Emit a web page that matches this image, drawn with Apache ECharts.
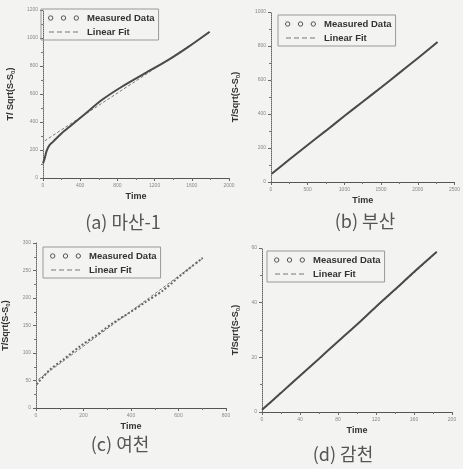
<!DOCTYPE html>
<html>
<head>
<meta charset="utf-8">
<style>
    html, body { margin: 0; padding: 0; background: #f3f3f1; }
    #main { width: 463px; height: 469px; }
</style>
<script src="https://cdn.jsdelivr.net/npm/echarts@6/dist/echarts.min.js"></script>
</head>
<body>
<div id="main"></div>
<script>
// (a) 마산-1
let timeA = [0, 18, 40, 70, 110, 198, 305, 448, 628, 843, 1094, 1344, 1559, 1792];
let measA = [105, 140, 195, 235, 260, 318, 377, 455, 555, 650, 747, 842, 935, 1045];
let fitTimeA = [18, 1792];
let fitA = [265, 1040];
// (b) 부산
let timeB = [10, 250, 500, 750, 1000, 1250, 1500, 1750, 2000, 2270];
let measB = [48, 132, 218, 302, 388, 472, 556, 642, 728, 823];
let fitTimeB = [10, 2270];
let fitB = [52, 820];
// (c) 여천
let timeC = [3, 59, 115, 185, 256, 326, 396, 466, 536, 606, 702];
let measC = [43, 70, 88, 112, 133, 155, 174, 194, 214, 240, 273];
let fitTimeC = [10, 702];
let fitC = [52, 272];
// (d) 감천
let timeD = [0, 20, 40, 60, 80, 100, 120, 140, 160, 184];
let measD = [0.8, 7, 13.3, 19.5, 25.8, 32, 38.5, 44.8, 51.2, 58.6];
let fitTimeD = [0, 184];
let fitD = [0.5, 58.4];

let xMax = [2000, 2500, 800, 200];
let xStep = [400, 500, 200, 40];
let yMax = [1200, 1000, 300, 60];
let yStep = [200, 200, 50, 20];
let captions = ["(a) 마산-1", "(b) 부산", "(c) 여천", "(d) 감천"];
let yNames = ["T/ Sqrt(S-S{s|0})", "T/Sqrt(S-S{s|0})", "T/Sqrt(S-S{s|0})", "T/Sqrt(S-S{s|0})"];

let panels = [
    {t: timeA, m: measA, ft: fitTimeA, f: fitA, grid: {left: 43, top: 10, width: 186, height: 168}, nameGap: 27, legend: [41, 9], cap: [123, 222]},
    {t: timeB, m: measB, ft: fitTimeB, f: fitB, grid: {left: 271, top: 12, width: 185, height: 170}, nameGap: 30, legend: [278, 15], cap: [365, 221]},
    {t: timeC, m: measC, ft: fitTimeC, f: fitC, grid: {left: 36, top: 243, width: 190, height: 165}, nameGap: 25, legend: [43, 247], cap: [120, 444]},
    {t: timeD, m: measD, ft: fitTimeD, f: fitD, grid: {left: 262, top: 248, width: 190, height: 164}, nameGap: 21, legend: [267, 251], cap: [343, 454]}
];

function pairs(xs, ys) {
    let out = [];
    for (let i = 0; i < xs.length; i++) out.push([xs[i], ys[i]]);
    return out;
}
function plain(v) { return String(v); }

// three small open circles; the two empty boxes keep the icon from stretching
let circlesIcon = 'path://M0,0h0.1v0h-0.1zM0,7h0.1v0h-0.1z' +
    'M0,3.5A2.2,2.2,0,1,1,4.4,3.5A2.2,2.2,0,1,1,0,3.5Z' +
    'M12.8,3.5A2.2,2.2,0,1,1,17.2,3.5A2.2,2.2,0,1,1,12.8,3.5Z' +
    'M25.6,3.5A2.2,2.2,0,1,1,30,3.5A2.2,2.2,0,1,1,25.6,3.5Z';
let dashIcon = 'path://M0,3h5v1h-5zM8,3h5v1h-5zM16,3h5v1h-5zM24,3h5v1h-5zM0,0h1v0h-1zM0,7h1v0h-1z';

let option = {
    backgroundColor: '#f3f3f1',
    animation: false,
    grid: [], xAxis: [], yAxis: [], series: [], legend: [], graphic: []
};

panels.forEach(function (p, i) {
    option.grid.push(p.grid);
    option.xAxis.push({
        type: 'value', gridIndex: i, min: 0, max: xMax[i], interval: xStep[i],
        name: 'Time', nameLocation: 'middle', nameGap: 14,
        nameTextStyle: {fontFamily: 'Liberation Sans', fontWeight: 'bold', fontSize: 9, color: '#333'},
        axisLine: {lineStyle: {color: '#555', width: 1}},
        axisTick: {length: 3, lineStyle: {color: '#666'}},
        minorTick: {show: true, splitNumber: 2, length: 2, lineStyle: {color: '#777'}},
        axisLabel: {fontSize: 5, color: '#888', margin: 5, formatter: plain},
        splitLine: {show: false}
    });
    option.yAxis.push({
        type: 'value', gridIndex: i, min: 0, max: yMax[i], interval: yStep[i],
        name: yNames[i], nameLocation: 'middle', nameGap: p.nameGap,
        nameTextStyle: {fontFamily: 'Liberation Sans', fontWeight: 'bold', fontSize: 9, color: '#333',
            rich: {s: {fontSize: 6, fontWeight: 'bold', fontFamily: 'Liberation Sans', color: '#333', verticalAlign: 'bottom', padding: [4, 0, 0, 0]}}},
        axisLine: {show: true, lineStyle: {color: '#666', width: 1, type: 'dotted'}},
        axisTick: {length: 3, lineStyle: {color: '#666'}},
        minorTick: {show: true, splitNumber: 2, length: 2, lineStyle: {color: '#777'}},
        axisLabel: {fontSize: 5, color: '#888', margin: 5, formatter: plain},
        splitLine: {show: false}
    });
    option.series.push({
        name: 'Measured Data', type: 'line', xAxisIndex: i, yAxisIndex: i,
        data: pairs(p.t, p.m), showSymbol: false, smooth: 0.3,
        lineStyle: i == 2 ? {color: '#666', width: 2, type: 'dotted'} : {color: '#4a4a4a', width: 2},
        z: 3
    });
    option.series.push({
        name: 'Linear Fit', type: 'line', xAxisIndex: i, yAxisIndex: i,
        data: pairs(p.ft, p.f), showSymbol: false,
        lineStyle: {color: '#7a7a7a', width: 1, type: [3, 2]},
        z: 2
    });
    option.legend.push({
        left: p.legend[0], top: p.legend[1], orient: 'vertical',
        padding: [3, 4, 3, 5], itemGap: 3, itemWidth: 31, itemHeight: 7,
        borderColor: '#999', borderWidth: 1, selectedMode: false,
        textStyle: {fontFamily: 'Liberation Sans', fontWeight: 'bold', fontSize: 9.5, color: '#333', padding: [0, 0, 0, 3]},
        data: [
            {name: 'Measured Data', icon: circlesIcon, itemStyle: {color: 'none', borderColor: '#555', borderWidth: 1}},
            {name: 'Linear Fit', icon: dashIcon, itemStyle: {color: '#777'}}
        ]
    });
    option.graphic.push({
        type: 'text', x: p.cap[0], y: p.cap[1],
        style: {text: captions[i], font: '18px "Noto Sans CJK KR"', fill: '#555', align: 'center', verticalAlign: 'middle'}
    });
});

var myChart = echarts.init(document.getElementById('main'));
myChart.setOption(option);
</script>
</body>
</html>
